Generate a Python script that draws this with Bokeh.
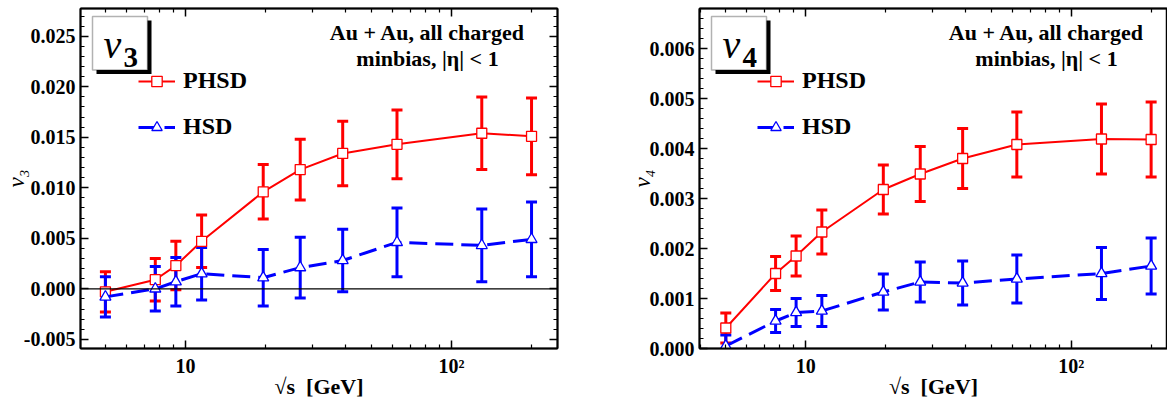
import math
from bokeh.plotting import figure
from bokeh.models import (ColumnDataSource, Whisker, TeeHead, FixedTicker, SingleIntervalTicker,
                          LinearAxis, LogAxis, Span, Label, BoxAnnotation, Legend, LegendItem,
                          NumeralTickFormatter, Range1d)
from bokeh.layouts import row
from bokeh.embed import file_html
from bokeh.resources import INLINE

# ---------------- data ----------------
energies = [5.0, 7.7, 9.2, 11.5, 19.6, 27.0, 39.0, 62.4, 130.0, 200.0]

v3_phsd = [-0.0003, 0.0009, 0.0023, 0.0047, 0.0096, 0.0118, 0.0134, 0.0143, 0.0154, 0.0151]
v3_phsd_err = [0.0020, 0.0021, 0.0024, 0.0026, 0.0027, 0.0030, 0.0032, 0.0034, 0.0036, 0.0038]
v3_hsd = [-0.0008, 0.0000, 0.0007, 0.0015, 0.0011, 0.0021, 0.0028, 0.0046, 0.0043, 0.0049]
v3_hsd_err = [0.0020, 0.0022, 0.0024, 0.0026, 0.0028, 0.0030, 0.0031, 0.0034, 0.0036, 0.0037]

v4_phsd = [0.00041, 0.00150, 0.00185, 0.00233, 0.00318, 0.00349, 0.00380, 0.00408, 0.00419, 0.00418]
v4_phsd_err = [0.00030, 0.00034, 0.00040, 0.00044, 0.00049, 0.00055, 0.00060, 0.00065, 0.00070, 0.00075]
v4_hsd = [0.00005, 0.00055, 0.00072, 0.00075, 0.00113, 0.00133, 0.00131, 0.00139, 0.00150, 0.00165]
v4_hsd_err = [0.00022, 0.00023, 0.00028, 0.00031, 0.00036, 0.00040, 0.00044, 0.00048, 0.00052, 0.00056]

x_major_ticks = [10, 100]
x_minor_ticks = [4, 5, 6, 7, 8, 9, 20, 30, 40, 50, 60, 70, 80, 90, 200]
x_tick_labels = {10: "10", 100: "10²"}

series_names = ["PHSD", "HSD"]
info_lines = ["Au + Au, all charged", "minbias, |η| < 1"]
x_title = "√s\u2002[GeV]"

FONT = "Liberation Serif"
RED = "#ff0000"
BLUE = "#0000ff"


def style_axis(ax, labels=True):
    ax.axis_line_color = "black"
    ax.axis_line_width = 2
    ax.major_tick_in = 8
    ax.major_tick_out = 0
    ax.minor_tick_in = 4
    ax.minor_tick_out = 0
    ax.major_tick_line_color = "black"
    ax.major_tick_line_width = 1.5
    ax.minor_tick_line_color = "black"
    ax.minor_tick_line_width = 1.2
    ax.major_label_text_font = FONT
    ax.major_label_text_font_style = "bold"
    ax.major_label_text_color = "black"
    if labels:
        ax.major_label_text_font_size = "20px"
        ax.major_label_standoff = 5
    else:
        ax.major_label_text_font_size = "1px"
        ax.major_label_text_alpha = 0
        ax.major_label_standoff = 0


def make_panel(fig_left_abs, bl, br, fw, xlo, xhi, ylo, yhi, yint, sub, ylab,
               phsd, phsd_err, hsd, hsd_err, zero_line, right_axis):
    bt, bb, fh = 8, 52, 340
    fl = fig_left_abs + bl
    ft = bt

    def xd(px):
        f = (px - fl) / fw
        return 10 ** (math.log10(xlo) + f * (math.log10(xhi) - math.log10(xlo)))

    def yd(py):
        f = (py - ft) / fh
        return yhi - f * (yhi - ylo)

    p = figure(x_axis_type="log", x_range=Range1d(xlo, xhi), y_range=Range1d(ylo, yhi),
               frame_width=fw, frame_height=fh, min_border_left=bl, min_border_right=br,
               min_border_top=bt, min_border_bottom=bb, toolbar_location=None,
               output_backend="svg", background_fill_color="white",
               border_fill_color="white")
    p.xgrid.visible = False
    p.ygrid.visible = False
    p.outline_line_color = "black"
    p.outline_line_width = 1.5

    # axes
    p.xaxis.ticker = FixedTicker(ticks=x_major_ticks, minor_ticks=x_minor_ticks)
    p.xaxis.major_label_overrides = x_tick_labels
    style_axis(p.xaxis[0])
    p.xaxis.major_label_standoff = 6
    p.xaxis.axis_label = x_title
    p.xaxis.axis_label_text_font = FONT
    p.xaxis.axis_label_text_font_style = "bold"
    p.xaxis.axis_label_text_font_size = "22px"
    p.xaxis.axis_label_text_color = "black"
    p.xaxis.axis_label_standoff = -6

    p.yaxis.ticker = SingleIntervalTicker(interval=yint, num_minor_ticks=5)
    p.yaxis.formatter = NumeralTickFormatter(format="0.000")
    style_axis(p.yaxis[0])
    p.yaxis.axis_label = ylab
    p.yaxis.axis_label_text_font = FONT
    p.yaxis.axis_label_text_font_style = "italic"
    p.yaxis.axis_label_text_font_size = "23px"
    p.yaxis.axis_label_text_color = "black"
    p.yaxis.axis_label_standoff = -8

    top = LogAxis(ticker=FixedTicker(ticks=x_major_ticks, minor_ticks=x_minor_ticks))
    style_axis(top, labels=False)
    p.add_layout(top, "above")
    if right_axis:
        right = LinearAxis(ticker=SingleIntervalTicker(interval=yint, num_minor_ticks=5))
        style_axis(right, labels=False)
        p.add_layout(right, "right")

    if zero_line:
        p.add_layout(Span(location=0, dimension="width", line_color="black", line_width=1.2))

    # error bars
    for vals, errs, col in ((phsd, phsd_err, RED), (hsd, hsd_err, BLUE)):
        src = ColumnDataSource(dict(x=energies,
                                    upper=[v + e for v, e in zip(vals, errs)],
                                    lower=[v - e for v, e in zip(vals, errs)]))
        w = Whisker(source=src, base="x", upper="upper", lower="lower",
                    line_color=col, line_width=3, level="underlay",
                    upper_head=TeeHead(size=11, line_color=col, line_width=3),
                    lower_head=TeeHead(size=11, line_color=col, line_width=3))
        p.add_layout(w)

    l1 = p.line(energies, phsd, line_color=RED, line_width=2)
    s1 = p.scatter(energies, phsd, marker="square", size=10, line_color=RED,
                   fill_color="white", line_width=1.3)
    l2 = p.line(energies, hsd, line_color=BLUE, line_width=3, line_dash="18 8")
    s2 = p.scatter(energies, hsd, marker="triangle", size=11, line_color=BLUE,
                   fill_color="white", line_width=1.3)

    # legend
    leg = Legend(items=[LegendItem(label=series_names[0], renderers=[l1, s1]),
                        LegendItem(label=series_names[1], renderers=[l2, s2])],
                 location=(58, ft + fh - 140),
                 orientation="vertical", padding=0, margin=0, spacing=19,
                 glyph_width=37, glyph_height=26, label_height=26, label_standoff=8,
                 label_text_font=FONT, label_text_font_style="bold",
                 label_text_font_size="24px", label_text_color="black",
                 border_line_color=None, background_fill_alpha=0)
    p.add_layout(leg)

    # boxed label (panel tag) with drop shadow
    bx0 = fl + 12
    p.add_layout(BoxAnnotation(left=xd(bx0 + 4), right=xd(bx0 + 59), top=yd(20), bottom=yd(73.5),
                               fill_color="black", fill_alpha=1, line_color=None))
    p.add_layout(BoxAnnotation(left=xd(bx0), right=xd(bx0 + 55), top=yd(16), bottom=yd(69.5),
                               fill_color="white", fill_alpha=1, line_color="black",
                               line_width=1.5))
    p.add_layout(Label(x=xd(bx0 + 11), y=yd(43.5), text="v", text_font=FONT,
                       text_font_style="italic", text_font_size="40px",
                       text_align="left", text_baseline="alphabetic", text_color="black"))
    p.add_layout(Label(x=xd(bx0 + 31), y=yd(57), text=sub, text_font=FONT,
                       text_font_style="bold", text_font_size="29px",
                       text_align="left", text_baseline="alphabetic", text_color="black"))

    # info text
    cx = fl + 347
    for i, t in enumerate(info_lines):
        p.add_layout(Label(x=xd(cx), y=yd(32 + 26 * i), text=t, text_font=FONT,
                           text_font_style="bold", text_font_size="22px",
                           text_align="center", text_baseline="middle", text_color="black"))
    return p


p1 = make_panel(0, 80, 62, 477, 4.03, 250.4, -0.00591, 0.02775, 0.005, "3", "v₃",
                v3_phsd, v3_phsd_err, v3_hsd, v3_hsd_err, True, True)
p2 = make_panel(80 + 477 + 62, 80, 0, 468, 3.98, 230.5, 0.0, 0.0068, 0.001, "4", "v₄",
                v4_phsd, v4_phsd_err, v4_hsd, v4_hsd_err, False, False)

layout = row(p1, p2)
open("out.html", "w").write(file_html(layout, INLINE))
